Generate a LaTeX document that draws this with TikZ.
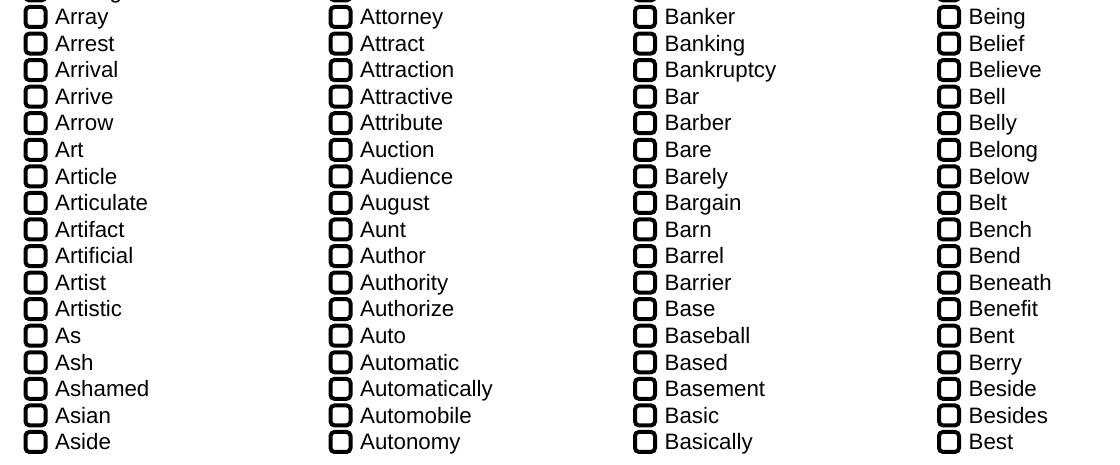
\documentclass[tikz,border=0pt]{standalone}
\usepackage{fontspec}
\setmainfont{Liberation Sans}
\usetikzlibrary{positioning}

\begin{document}
\begin{tikzpicture}[x=1pt,y=1pt,node distance=26.5625pt,
  box/.style={rectangle,draw=black,line width=4pt,rounded corners=4pt,
    minimum width=20pt,minimum height=20pt,inner sep=0pt},
  word/.style={inner sep=0pt,anchor=west,text height=15.5pt,text depth=0pt,
    font=\fontsize{22.3}{25}\selectfont}]

  \useasboundingbox (0,0) rectangle (1120,-464);
  \clip (0,0) rectangle (1120,-464);

  % first column
  \node[box] (a0) at (35.5,9.6) {};
  \node[word] (ta0) [right=7.5pt of a0] {Arrangement};
  \node[box] (a1) [below of=a0] {};  \node[word] (ta1) [right=7.5pt of a1] {Array};
  \node[box] (a2) [below of=a1] {};  \node[word] (ta2) [right=7.5pt of a2] {Arrest};
  \node[box] (a3) [below of=a2] {};  \node[word] (ta3) [right=7.5pt of a3] {Arrival};
  \node[box] (a4) [below of=a3] {};  \node[word] (ta4) [right=7.5pt of a4] {Arrive};
  \node[box] (a5) [below of=a4] {};  \node[word] (ta5) [right=7.5pt of a5] {Arrow};
  \node[box] (a6) [below of=a5] {};  \node[word] (ta6) [right=7.5pt of a6] {Art};
  \node[box] (a7) [below of=a6] {};  \node[word] (ta7) [right=7.5pt of a7] {Article};
  \node[box] (a8) [below of=a7] {};  \node[word] (ta8) [right=7.5pt of a8] {Articulate};
  \node[box] (a9) [below of=a8] {};  \node[word] (ta9) [right=7.5pt of a9] {Artifact};
  \node[box] (a10) [below of=a9] {}; \node[word] (ta10) [right=7.5pt of a10] {Artificial};
  \node[box] (a11) [below of=a10] {}; \node[word] (ta11) [right=7.5pt of a11] {Artist};
  \node[box] (a12) [below of=a11] {}; \node[word] (ta12) [right=7.5pt of a12] {Artistic};
  \node[box] (a13) [below of=a12] {}; \node[word] (ta13) [right=7.5pt of a13] {As};
  \node[box] (a14) [below of=a13] {}; \node[word] (ta14) [right=7.5pt of a14] {Ash};
  \node[box] (a15) [below of=a14] {}; \node[word] (ta15) [right=7.5pt of a15] {Ashamed};
  \node[box] (a16) [below of=a15] {}; \node[word] (ta16) [right=7.5pt of a16] {Asian};
  \node[box] (a17) [below of=a16] {}; \node[word] (ta17) [right=7.5pt of a17] {Aside};

  % second column
  \node[box] (b0) at (340.5,9.6) {};
  \node[box] (b1) [below of=b0] {};  \node[word] (tb1) [right=7.5pt of b1] {Attorney};
  \node[box] (b2) [below of=b1] {};  \node[word] (tb2) [right=7.5pt of b2] {Attract};
  \node[box] (b3) [below of=b2] {};  \node[word] (tb3) [right=7.5pt of b3] {Attraction};
  \node[box] (b4) [below of=b3] {};  \node[word] (tb4) [right=7.5pt of b4] {Attractive};
  \node[box] (b5) [below of=b4] {};  \node[word] (tb5) [right=7.5pt of b5] {Attribute};
  \node[box] (b6) [below of=b5] {};  \node[word] (tb6) [right=7.5pt of b6] {Auction};
  \node[box] (b7) [below of=b6] {};  \node[word] (tb7) [right=7.5pt of b7] {Audience};
  \node[box] (b8) [below of=b7] {};  \node[word] (tb8) [right=7.5pt of b8] {August};
  \node[box] (b9) [below of=b8] {};  \node[word] (tb9) [right=7.5pt of b9] {Aunt};
  \node[box] (b10) [below of=b9] {}; \node[word] (tb10) [right=7.5pt of b10] {Author};
  \node[box] (b11) [below of=b10] {}; \node[word] (tb11) [right=7.5pt of b11] {Authority};
  \node[box] (b12) [below of=b11] {}; \node[word] (tb12) [right=7.5pt of b12] {Authorize};
  \node[box] (b13) [below of=b12] {}; \node[word] (tb13) [right=7.5pt of b13] {Auto};
  \node[box] (b14) [below of=b13] {}; \node[word] (tb14) [right=7.5pt of b14] {Automatic};
  \node[box] (b15) [below of=b14] {}; \node[word] (tb15) [right=7.5pt of b15] {Automatically};
  \node[box] (b16) [below of=b15] {}; \node[word] (tb16) [right=7.5pt of b16] {Automobile};
  \node[box] (b17) [below of=b16] {}; \node[word] (tb17) [right=7.5pt of b17] {Autonomy};

  % third column
  \node[box] (c0) at (645,9.6) {};
  \node[box] (c1) [below of=c0] {};  \node[word] (tc1) [right=7.5pt of c1] {Banker};
  \node[box] (c2) [below of=c1] {};  \node[word] (tc2) [right=7.5pt of c2] {Banking};
  \node[box] (c3) [below of=c2] {};  \node[word] (tc3) [right=7.5pt of c3] {Bankruptcy};
  \node[box] (c4) [below of=c3] {};  \node[word] (tc4) [right=7.5pt of c4] {Bar};
  \node[box] (c5) [below of=c4] {};  \node[word] (tc5) [right=7.5pt of c5] {Barber};
  \node[box] (c6) [below of=c5] {};  \node[word] (tc6) [right=7.5pt of c6] {Bare};
  \node[box] (c7) [below of=c6] {};  \node[word] (tc7) [right=7.5pt of c7] {Barely};
  \node[box] (c8) [below of=c7] {};  \node[word] (tc8) [right=7.5pt of c8] {Bargain};
  \node[box] (c9) [below of=c8] {};  \node[word] (tc9) [right=7.5pt of c9] {Barn};
  \node[box] (c10) [below of=c9] {}; \node[word] (tc10) [right=7.5pt of c10] {Barrel};
  \node[box] (c11) [below of=c10] {}; \node[word] (tc11) [right=7.5pt of c11] {Barrier};
  \node[box] (c12) [below of=c11] {}; \node[word] (tc12) [right=7.5pt of c12] {Base};
  \node[box] (c13) [below of=c12] {}; \node[word] (tc13) [right=7.5pt of c13] {Baseball};
  \node[box] (c14) [below of=c13] {}; \node[word] (tc14) [right=7.5pt of c14] {Based};
  \node[box] (c15) [below of=c14] {}; \node[word] (tc15) [right=7.5pt of c15] {Basement};
  \node[box] (c16) [below of=c15] {}; \node[word] (tc16) [right=7.5pt of c16] {Basic};
  \node[box] (c17) [below of=c16] {}; \node[word] (tc17) [right=7.5pt of c17] {Basically};

  % fourth column
  \node[box] (d0) at (949,9.6) {};
  \node[box] (d1) [below of=d0] {};  \node[word] (td1) [right=7.5pt of d1] {Being};
  \node[box] (d2) [below of=d1] {};  \node[word] (td2) [right=7.5pt of d2] {Belief};
  \node[box] (d3) [below of=d2] {};  \node[word] (td3) [right=7.5pt of d3] {Believe};
  \node[box] (d4) [below of=d3] {};  \node[word] (td4) [right=7.5pt of d4] {Bell};
  \node[box] (d5) [below of=d4] {};  \node[word] (td5) [right=7.5pt of d5] {Belly};
  \node[box] (d6) [below of=d5] {};  \node[word] (td6) [right=7.5pt of d6] {Belong};
  \node[box] (d7) [below of=d6] {};  \node[word] (td7) [right=7.5pt of d7] {Below};
  \node[box] (d8) [below of=d7] {};  \node[word] (td8) [right=7.5pt of d8] {Belt};
  \node[box] (d9) [below of=d8] {};  \node[word] (td9) [right=7.5pt of d9] {Bench};
  \node[box] (d10) [below of=d9] {}; \node[word] (td10) [right=7.5pt of d10] {Bend};
  \node[box] (d11) [below of=d10] {}; \node[word] (td11) [right=7.5pt of d11] {Beneath};
  \node[box] (d12) [below of=d11] {}; \node[word] (td12) [right=7.5pt of d12] {Benefit};
  \node[box] (d13) [below of=d12] {}; \node[word] (td13) [right=7.5pt of d13] {Bent};
  \node[box] (d14) [below of=d13] {}; \node[word] (td14) [right=7.5pt of d14] {Berry};
  \node[box] (d15) [below of=d14] {}; \node[word] (td15) [right=7.5pt of d15] {Beside};
  \node[box] (d16) [below of=d15] {}; \node[word] (td16) [right=7.5pt of d16] {Besides};
  \node[box] (d17) [below of=d16] {}; \node[word] (td17) [right=7.5pt of d17] {Best};
\end{tikzpicture}
\end{document}
